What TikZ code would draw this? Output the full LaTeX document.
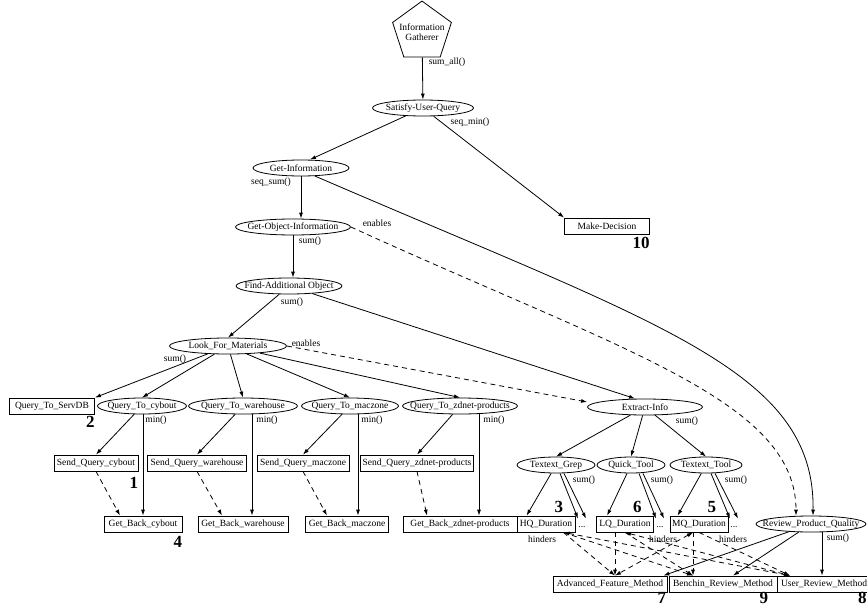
\documentclass[tikz,border=0pt]{standalone}
\usepackage{fontspec}
\setmainfont{Liberation Serif}
\usetikzlibrary{shapes.geometric,arrows.meta}

\tikzset{
  goal/.style={draw, ellipse, inner xsep=-10pt, inner ysep=0pt, minimum height=16pt, minimum width=#1},
  task/.style={draw, rectangle, inner xsep=1pt, inner ysep=0pt, minimum height=16pt, minimum width=#1},
  dots/.style={inner sep=0pt, minimum height=16pt},
  lbl/.style={inner sep=0pt},
  num/.style={inner sep=0pt, anchor=base east, font=\fontsize{17}{17}\selectfont\bfseries},
  hind/.style={->, dash pattern=on 5pt off 4pt},
}

\begin{document}
\begin{tikzpicture}[x=1pt, y=-1pt, line width=0.8pt, >={Latex[length=6pt,width=4pt]},
    font=\fontsize{9.5}{10.5}\selectfont]
  \useasboundingbox (0,0) rectangle (867,607);

  % upper part of the tree
  \node[draw, regular polygon, regular polygon sides=5, minimum size=60pt, inner sep=-5pt, align=center] (ig) at (422,32) {Information\\Gatherer};
  \node[goal=101pt] (sat) at (423,108) {Satisfy-User-Query};
  \node[task=85pt] (mkdec) at (607,226) {Make-Decision};
  \node[goal=96pt] (getinfo) at (301,168) {Get-Information};
  \node[goal=115pt] (getobj) at (293,227) {Get-Object-Information};
  \node[goal=106pt] (findadd) at (289,286) {Find-Additional Object};
  \node[goal=117pt] (look) at (228,346) {Look\_For\_Materials};

  % query row
  \node[task=85pt] (servdb) at (52,406) {Query\_To\_ServDB};
  \node[goal=89pt] (qcyb) at (142,406) {Query\_To\_cybout};
  \node[goal=109pt] (qwar) at (243,406) {Query\_To\_warehouse};
  \node[goal=97pt] (qmac) at (350,406) {Query\_To\_maczone};
  \node[goal=115pt] (qzd) at (460,406) {Query\_To\_zdnet-products};
  \node[task=84pt] (sqcyb) at (96,463) {Send\_Query\_cybout};
  \node[task=99pt] (sqwar) at (197,463) {Send\_Query\_warehouse};
  \node[task=92pt] (sqmac) at (303,463) {Send\_Query\_maczone};
  \node[task=113pt] (sqzd) at (417,463) {Send\_Query\_zdnet-products};
  \node[task=78pt] (gbcyb) at (143,524) {Get\_Back\_cybout};
  \node[task=90pt] (gbwar) at (243,524) {Get\_Back\_warehouse};
  \node[task=83pt] (gbmac) at (347,524) {Get\_Back\_maczone};
  \node[task=114pt] (gbzd) at (460,524) {Get\_Back\_zdnet-products};

  % extraction part
  \node[goal=115pt] (extract) at (645,407) {Extract-Info};
  \node[goal=78pt] (tgrep) at (556,465) {Textext\_Grep};
  \node[goal=68pt] (quick) at (631,465) {Quick\_Tool};
  \node[goal=72pt] (ttool) at (706,465) {Textext\_Tool};
  \node[task=58pt] (hq) at (546,524) {HQ\_Duration};
  \node[task=57pt] (lq) at (625,524) {LQ\_Duration};
  \node[task=58pt] (mq) at (699,524) {MQ\_Duration};
  \node[dots] (d1) at (582,527) {...};
  \node[dots] (d2) at (660,527) {...};
  \node[dots] (d3) at (734,527) {...};
  \node[goal=110pt] (rpq) at (811,524) {Review\_Product\_Quality};
  \node[task=114pt] (adv) at (610,584) {Advanced\_Feature\_Method};
  \node[task=108pt] (ben) at (723,584) {Benchin\_Review\_Method};
  \node[task=93pt] (user) at (824,584) {User\_Review\_Method};

  % numbers
  \node[num] (n10) at ([yshift=-14pt]mkdec.south east) {10};
  \node[num] (n2) at ([yshift=-13pt]servdb.south east) {2};
  \node[num] (n1) at ([yshift=-17pt]sqcyb.south east) {1};
  \node[num] (n4) at ([yshift=-15pt]gbcyb.south east) {4};
  \node[num] (n3) at ([xshift=-12pt,yshift=3pt]hq.north east) {3};
  \node[num] (n6) at ([xshift=-12pt,yshift=3pt]lq.north east) {6};
  \node[num] (n5) at ([xshift=-12pt,yshift=3pt]mq.north east) {5};
  \node[num] (n7) at ([xshift=-1pt,yshift=-11pt]adv.south east) {7};
  \node[num] (n9) at ([xshift=-9pt,yshift=-11pt]ben.south east) {9};
  \node[num] (n8) at ([xshift=-4pt,yshift=-11pt]user.south east) {8};

  % labels
  \node[lbl] (lsumall) at (447,62) {sum\_all()};
  \node[lbl] (lseqmin) at (470,122) {seq\_min()};
  \node[lbl] (lseqsum) at (271,182) {seq\_sum()};
  \node[lbl] (len1) at (377,223) {enables};
  \node[lbl] (lsum1) at (310,241) {sum()};
  \node[lbl] (lsum2) at (292,302) {sum()};
  \node[lbl] (len2) at (306,343) {enables};
  \node[lbl] (lsum3) at (175,359) {sum()};
  \foreach \x [count=\i] in {156,267,372,494}
    \node[lbl] (lmin\i) at (\x,420) {min()};
  \node[lbl] (lsum4) at (687,421) {sum()};
  \node[lbl] (lsum5) at (584,480) {sum()};
  \node[lbl] (lsum6) at (662,480) {sum()};
  \node[lbl] (lsum7) at (736,480) {sum()};
  \node[lbl] (lsum8) at (838,538) {sum()};
  \node[lbl] (lhin1) at (542,539) {hinders};
  \node[lbl] (lhin2) at (663,539) {hinders};
  \node[lbl] (lhin3) at (733,539) {hinders};

  % edges
  \draw[->] (ig) -- (sat);
  \draw[->] (sat) -- ([xshift=9pt]getinfo.north);
  \draw[->] (sat) -- (mkdec.north west);
  \draw[->] (getinfo.south) -- (getinfo.south |- getobj.north);
  \draw[->] (getobj.south) -- (getobj.south |- findadd.north);
  \draw[->] (getinfo.-30) .. controls (660,325) and (815,370) .. ([xshift=2pt]rpq.north);
  \draw[hind] (getobj.east) .. controls (620,350) and (796,400) .. ([xshift=-15pt]rpq.north);
  \draw[->] (findadd) -- (look.north);
  \draw[->] (findadd) -- ([xshift=-10pt]extract.north);
  \draw[hind] (look.east) -- ([yshift=5pt]extract.west);

  \draw[->] (look) -- (servdb.north east);
  \foreach \s/\a/\b in {cyb/1pt/-23pt, war/9pt/-21pt, mac/8pt/-20pt, zd/19pt/-33pt} {
    \draw[->] (look) -- (q\s.north);
    \draw[->] (q\s) -- (sq\s.north);
    \draw[->] ([xshift=\a]q\s.south) -- ([xshift=\a]q\s.south |- gb\s.north);
    \draw[hind] (sq\s.south) -- ([xshift=\b]gb\s.north);
  }

  \draw[->] (extract) -- (tgrep.north);
  \draw[->] (extract) -- (quick.north);
  \draw[->] (extract) -- (ttool.north);
  \draw[->] (tgrep) -- ([xshift=10pt]hq.north west);
  \draw[->] (quick) -- ([xshift=11pt]lq.north west);
  \draw[->] (ttool) -- ([xshift=8pt]mq.north west);
  \foreach \t/\d/\o in {tgrep/d1/4pt, quick/d2/8pt, ttool/d3/5pt} {
    \draw[->] ([xshift=\o]\t.south) -- ([xshift=-4pt]\d.north);
    \draw[->] ([xshift=\o+4pt]\t.south) -- ([xshift=4pt]\d.north);
  }

  % hinders
  \draw[hind] ([xshift=-12pt]hq.south east) -- ([xshift=5pt]adv.north);
  \draw[hind] ([xshift=-12pt]hq.south east) -- ([xshift=-30pt]ben.north);
  \draw[hind,<->] ([xshift=-12pt]hq.south east) -- ([xshift=-34pt]user.north);
  \draw[hind] ([xshift=-10pt]lq.south) -- ([xshift=5pt]adv.north);
  \draw[hind] (lq.south) -- ([xshift=-30pt]ben.north);
  \draw[hind,<->] (lq.south) -- ([xshift=-34pt]user.north);
  \draw[hind,<->] ([xshift=-6pt]mq.south) -- ([xshift=5pt]adv.north);
  \draw[hind] ([xshift=-6pt]mq.south) -- ([xshift=-30pt]ben.north);
  \draw[hind] (mq.south) -- ([xshift=-34pt]user.north);

  \draw[->] (rpq) -- ([xshift=-4pt]adv.north east);
  \draw[->] (rpq) -- ([xshift=10pt]ben.north);
  \draw[->] ([xshift=11pt]rpq.south) -- ([xshift=11pt]rpq.south |- user.north);
\end{tikzpicture}
\end{document}
